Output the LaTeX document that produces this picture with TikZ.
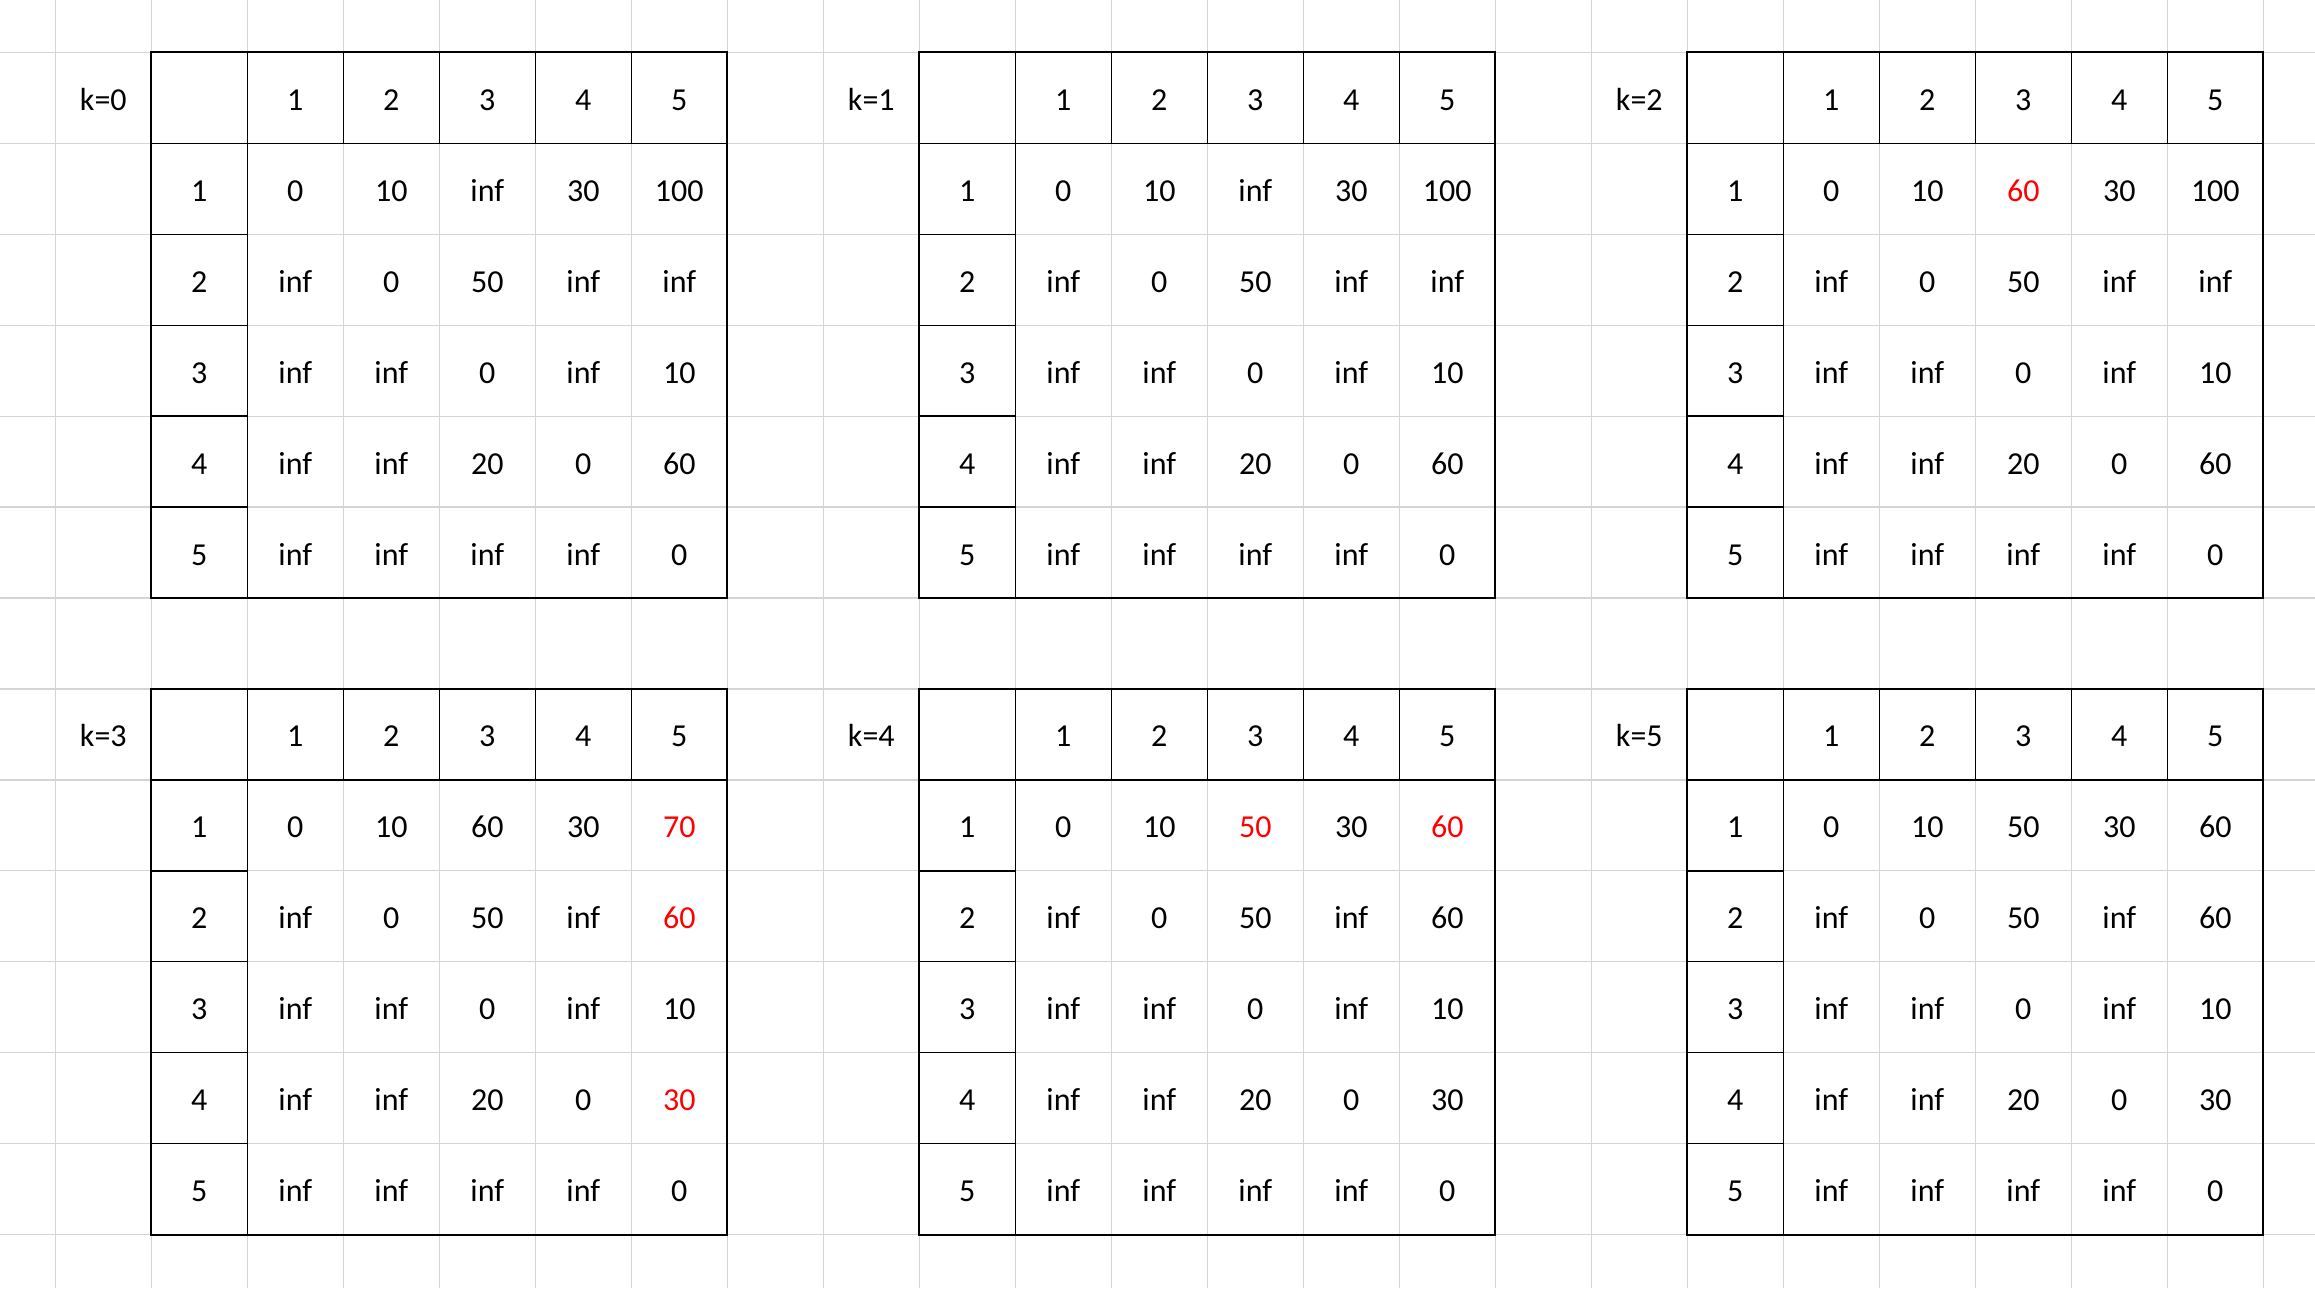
\documentclass[tikz,border=0pt]{standalone}
\usepackage{fontspec}
\setmainfont{Carlito}
\usepackage{xcolor}
\definecolor{gridgray}{HTML}{D4D4D4}
\newcommand\hl[1]{\textcolor{red}{#1}}
\tikzset{
  lbl/.style={inner sep=0pt, anchor=base, font=\fontsize{32}{38}\selectfont},
  gridline/.style={draw=gridgray, line width=1.2pt},
  outerborder/.style={draw=black, line width=2.2pt},
  innerborder/.style={draw=black, line width=1.3pt}
}
\newcommand\fwtable[9]{%
  \pgfmathsetmacro\xo{55.3+96*#2}%
  \pgfmathsetmacro\yo{52.3+90.95*#3}%
  \node[lbl] (#1-k) at (\xo-48,\yo+58) {#4};
  \foreach \h in {1,...,5} {\node[lbl] (#1-h\h) at (\xo+48+96*\h,\yo+58) {\h};}
  \foreach \h in {1,...,5} {\node[lbl] (#1-v\h) at (\xo+48,\yo+90.95*\h+58) {\h};}
  \foreach \row [count=\r] in {{#5},{#6},{#7},{#8},{#9}} {
    \foreach \v [count=\c] in \row {
      \node[lbl] (#1-\r-\c) at (\xo+48+96*\c,\yo+90.95*\r+58) {\v};
    }
  }
  \draw[innerborder] (\xo,\yo+90.95) -- (\xo+576,\yo+90.95);
  \draw[innerborder] (\xo+96,\yo) -- (\xo+96,\yo+545.7);
  \foreach \i in {2,...,5} {\draw[innerborder] (\xo+96*\i,\yo) -- (\xo+96*\i,\yo+90.95);}
  \foreach \i in {2,...,5} {\draw[innerborder] (\xo,\yo+90.95*\i) -- (\xo+96,\yo+90.95*\i);}
  \draw[outerborder] (\xo,\yo) rectangle (\xo+576,\yo+545.7);
}
\begin{document}
\begin{tikzpicture}[x=1pt,y=-1pt]
\useasboundingbox (0,0) rectangle (2315,1288);
\fill[white] (0,0) rectangle (2315,1288);
\foreach \n in {0,...,23} {\draw[gridline] (55.3+96*\n,0) -- (55.3+96*\n,1288);}
\foreach \m in {0,...,13} {\draw[gridline] (0,52.3+90.95*\m) -- (2315,52.3+90.95*\m);}
\fwtable{ta}{1}{0}{k=0}{0,10,inf,30,100}{inf,0,50,inf,inf}{inf,inf,0,inf,10}{inf,inf,20,0,60}{inf,inf,inf,inf,0}
\fwtable{tb}{9}{0}{k=1}{0,10,inf,30,100}{inf,0,50,inf,inf}{inf,inf,0,inf,10}{inf,inf,20,0,60}{inf,inf,inf,inf,0}
\fwtable{tc}{17}{0}{k=2}{0,10,\hl{60},30,100}{inf,0,50,inf,inf}{inf,inf,0,inf,10}{inf,inf,20,0,60}{inf,inf,inf,inf,0}
\fwtable{td}{1}{7}{k=3}{0,10,60,30,\hl{70}}{inf,0,50,inf,\hl{60}}{inf,inf,0,inf,10}{inf,inf,20,0,\hl{30}}{inf,inf,inf,inf,0}
\fwtable{te}{9}{7}{k=4}{0,10,\hl{50},30,\hl{60}}{inf,0,50,inf,60}{inf,inf,0,inf,10}{inf,inf,20,0,30}{inf,inf,inf,inf,0}
\fwtable{tf}{17}{7}{k=5}{0,10,50,30,60}{inf,0,50,inf,60}{inf,inf,0,inf,10}{inf,inf,20,0,30}{inf,inf,inf,inf,0}
\end{tikzpicture}
\end{document}
